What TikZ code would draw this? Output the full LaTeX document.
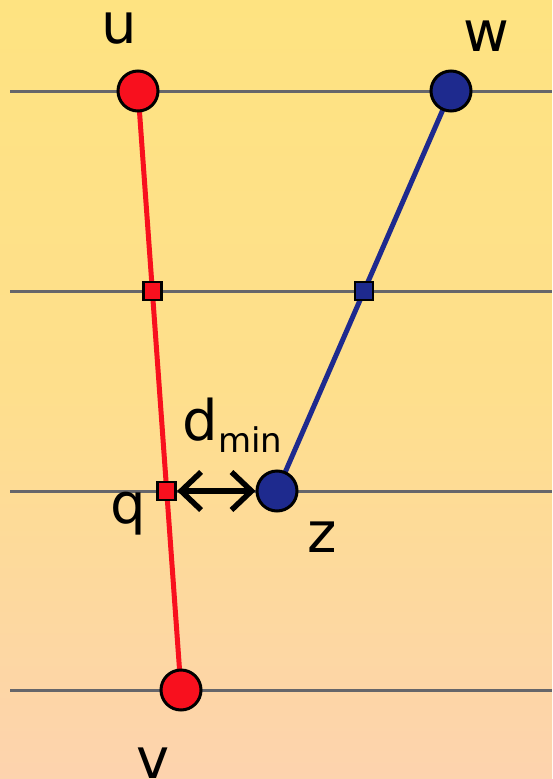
\documentclass[tikz,border=0pt]{standalone}
\usepackage{fontspec}
\setmainfont{DejaVu Sans}
\usetikzlibrary{arrows.meta}
\definecolor{bgtop}{HTML}{FEE381}
\definecolor{bgbot}{HTML}{FDD3AE}
\definecolor{rail}{HTML}{66666A}
\definecolor{redv}{HTML}{F8101E}
\definecolor{bluev}{HTML}{1E2A8E}
\tikzset{
  vert/.style={circle, draw=black, line width=3pt, minimum size=40pt, inner sep=0pt},
  sq/.style={rectangle, draw=black, line width=2.8pt, minimum size=18pt, inner sep=0pt},
  rl/.style={draw=rail, line width=3pt},
  lbl/.style={font=\fontsize{56}{56}\selectfont, inner sep=0pt},
  mybarb/.tip={Straight Barb[length=20pt,width=38pt,line width=5.5pt]}
}
\begin{document}
\begin{tikzpicture}[x=1pt,y=-1pt]
\useasboundingbox (0,0) rectangle (552,779);
\shade[top color=bgtop, bottom color=bgbot, middle color=bgtop!75!bgbot] (0,0) rectangle (552,779);
% rails
\coordinate (r1a) at (10,91);  \coordinate (r1b) at (552,91);
\coordinate (r2a) at (10,291); \coordinate (r2b) at (552,291);
\coordinate (r3a) at (10,491); \coordinate (r3b) at (552,491);
\coordinate (r4a) at (10,690); \coordinate (r4b) at (552,690);
\draw[rl] (r1a) -- (r1b);
\draw[rl] (r2a) -- (r2b);
\draw[rl] (r3a) -- (r3b);
\draw[rl] (r4a) -- (r4b);
% edges
\coordinate (cu) at (138,91);
\coordinate (cv) at (181,690);
\coordinate (cw) at (451,91);
\coordinate (cz) at (277,491);
\draw[redv, line width=5pt] (cu) -- (cv);
\draw[bluev, line width=5pt] (cw) -- (cz);
% vertices
\node[vert, fill=redv] (u) at (cu) {};
\node[vert, fill=redv] (v) at (cv) {};
\node[vert, fill=bluev] (w) at (cw) {};
\node[vert, fill=bluev] (z) at (cz) {};
\node[sq, fill=redv] (p1) at (152.4,291) {};
\node[sq, fill=redv] (q) at (166.7,491) {};
\node[sq, fill=bluev] (p2) at (364,291) {};
% arrow
\draw[line width=5.5pt, {mybarb}-{mybarb}] (q.east) -- (z.west);
% labels
\node[lbl] (lu) at (119,28) {u};
\node[lbl] (lw) at (486,36) {w};
\node[lbl, anchor=base] (ld) at (200,440) {d};
\node[font=\fontsize{34}{34}\selectfont, inner sep=0pt, anchor=base west] (lmin) at (218,452) {min};
\node[lbl] (lq) at (128,514) {q};
\node[lbl] (lz) at (322,537) {z};
\node[lbl] (lv) at (153,763) {v};
\end{tikzpicture}
\end{document}
